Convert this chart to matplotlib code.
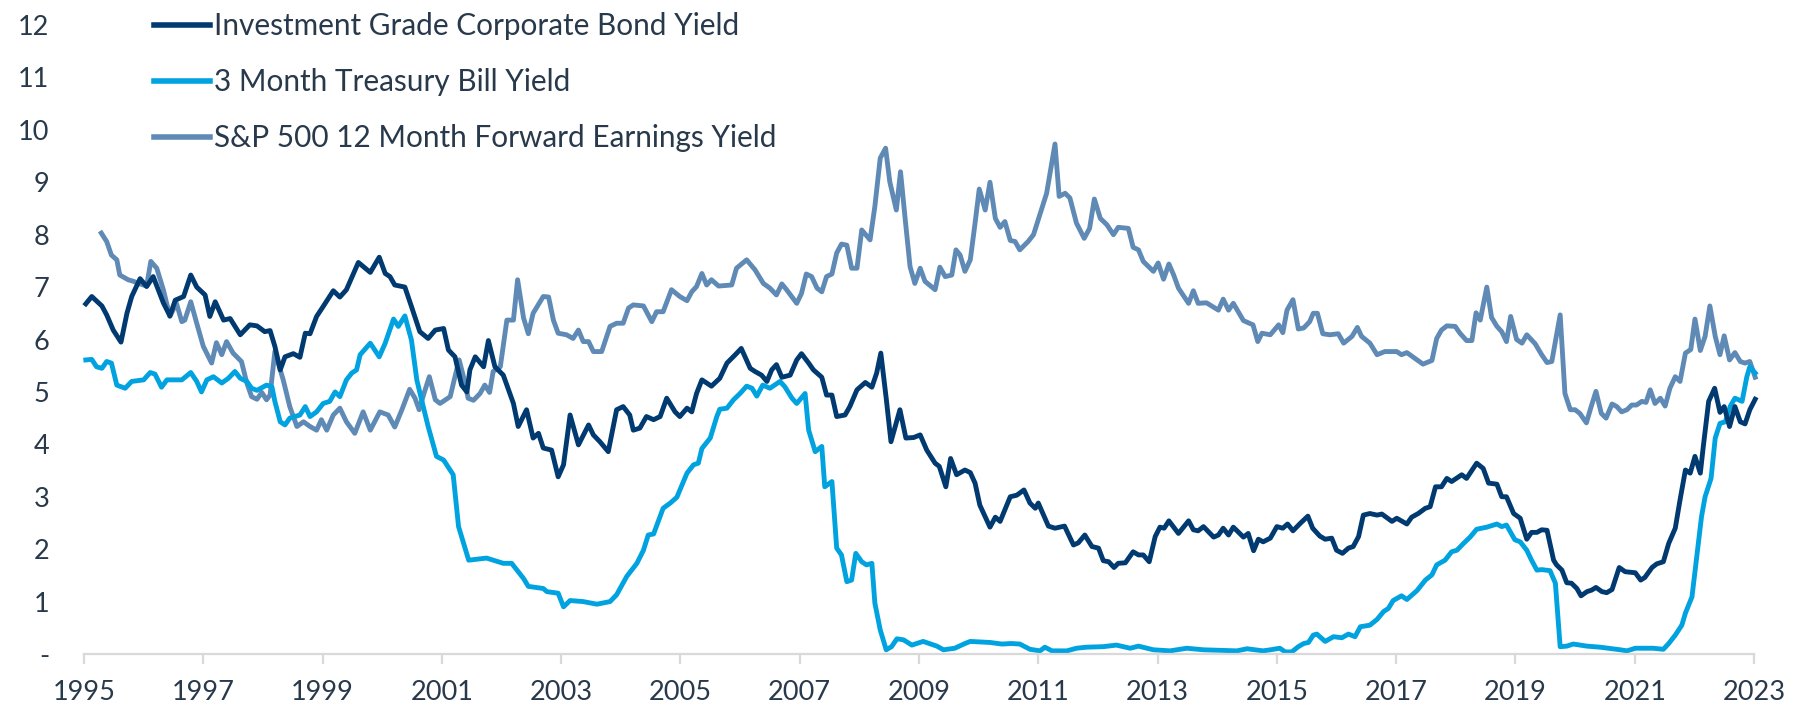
import matplotlib
matplotlib.use("Agg")
import matplotlib.pyplot as plt
import numpy as np

# ---- data ----
corp_dates = [1995.03, 1995.13, 1995.30, 1995.38, 1995.49, 1995.62, 1995.72, 1995.80, 1995.94, 1996.05,
              1996.16, 1996.33, 1996.44, 1996.53, 1996.67, 1996.79, 1996.89, 1997.03, 1997.11, 1997.20,
              1997.34, 1997.45, 1997.62, 1997.78, 1997.90, 1998.03, 1998.12, 1998.20, 1998.29, 1998.37,
              1998.51, 1998.62, 1998.71, 1998.79, 1998.90, 1999.01, 1999.18, 1999.29, 1999.40, 1999.60,
              1999.80, 1999.95, 2000.05, 2000.13, 2000.21, 2000.38, 2000.49, 2000.63, 2000.77, 2000.89,
              2001.03, 2001.11, 2001.22, 2001.33, 2001.42, 2001.47, 2001.56, 2001.70, 2001.78, 2001.89,
              2002.03, 2002.20, 2002.28, 2002.42, 2002.53, 2002.62, 2002.70, 2002.84, 2002.95, 2003.04,
              2003.15, 2003.29, 2003.46, 2003.54, 2003.65, 2003.79, 2003.93, 2004.04, 2004.15, 2004.21,
              2004.32, 2004.43, 2004.55, 2004.66, 2004.77, 2004.91, 2004.99, 2005.11, 2005.19, 2005.27,
              2005.36, 2005.52, 2005.66, 2005.78, 2005.92, 2006.02, 2006.17, 2006.25, 2006.36, 2006.45,
              2006.53, 2006.61, 2006.70, 2006.84, 2006.95, 2007.03, 2007.15, 2007.23, 2007.37, 2007.45,
              2007.54, 2007.62, 2007.76, 2007.84, 2007.96, 2008.10, 2008.21, 2008.29, 2008.36, 2008.45,
              2008.53, 2008.68, 2008.78, 2008.91, 2009.02, 2009.13, 2009.27, 2009.34, 2009.45, 2009.53,
              2009.63, 2009.77, 2009.86, 2009.94, 2010.02, 2010.19, 2010.28, 2010.36, 2010.44, 2010.53,
              2010.64, 2010.76, 2010.86, 2010.95, 2011.00, 2011.17, 2011.28, 2011.44, 2011.59, 2011.67,
              2011.78, 2011.90, 2012.01, 2012.09, 2012.18, 2012.27, 2012.34, 2012.46, 2012.59, 2012.68,
              2012.76, 2012.86, 2012.96, 2013.04, 2013.11, 2013.19, 2013.35, 2013.52, 2013.60, 2013.68,
              2013.77, 2013.94, 2014.02, 2014.10, 2014.19, 2014.27, 2014.44, 2014.52, 2014.61, 2014.69,
              2014.77, 2014.89, 2015.00, 2015.10, 2015.18, 2015.27, 2015.39, 2015.52, 2015.60, 2015.72,
              2015.81, 2015.92, 2016.00, 2016.10, 2016.20, 2016.28, 2016.37, 2016.45, 2016.56, 2016.68,
              2016.76, 2016.93, 2017.01, 2017.18, 2017.26, 2017.37, 2017.49, 2017.57, 2017.66, 2017.76,
              2017.85, 2017.93, 2018.10, 2018.18, 2018.35, 2018.46, 2018.55, 2018.69, 2018.77, 2018.85,
              2018.97, 2019.08, 2019.19, 2019.27, 2019.36, 2019.44, 2019.53, 2019.64, 2019.69, 2019.78,
              2019.86, 2019.94, 2020.03, 2020.10, 2020.20, 2020.28, 2020.35, 2020.45, 2020.53, 2020.62,
              2020.74, 2020.84, 2021.01, 2021.10, 2021.17, 2021.29, 2021.37, 2021.48, 2021.57, 2021.68,
              2021.76, 2021.85, 2021.93, 2022.01, 2022.10, 2022.15, 2022.24, 2022.34, 2022.43, 2022.50,
              2022.59, 2022.68, 2022.77, 2022.85, 2022.93, 2023.02]
corp_yield = [6.68, 6.82, 6.64, 6.47, 6.18, 5.95, 6.50, 6.82, 7.16, 7.01,
              7.20, 6.70, 6.45, 6.75, 6.82, 7.23, 7.00, 6.85, 6.44, 6.72,
              6.37, 6.40, 6.09, 6.28, 6.26, 6.15, 6.17, 5.87, 5.42, 5.67,
              5.73, 5.66, 6.12, 6.11, 6.44, 6.63, 6.93, 6.81, 6.95, 7.47,
              7.28, 7.57, 7.26, 7.20, 7.04, 7.00, 6.63, 6.15, 6.02, 6.18,
              6.21, 5.80, 5.67, 5.13, 5.00, 5.42, 5.67, 5.48, 5.98, 5.48,
              5.32, 4.78, 4.34, 4.66, 4.12, 4.21, 3.93, 3.89, 3.38, 3.61,
              4.56, 3.99, 4.37, 4.18, 4.05, 3.86, 4.66, 4.72, 4.56, 4.27,
              4.31, 4.53, 4.47, 4.53, 4.88, 4.62, 4.53, 4.69, 4.62, 4.97,
              5.23, 5.11, 5.26, 5.55, 5.71, 5.83, 5.45, 5.39, 5.32, 5.20,
              5.42, 5.52, 5.28, 5.32, 5.61, 5.73, 5.55, 5.42, 5.28, 4.94,
              4.94, 4.53, 4.56, 4.72, 5.04, 5.18, 5.09, 5.36, 5.74, 4.88,
              4.05, 4.66, 4.12, 4.13, 4.18, 3.89, 3.64, 3.58, 3.19, 3.73,
              3.42, 3.51, 3.46, 3.26, 2.84, 2.42, 2.61, 2.53, 2.75, 3.00,
              3.03, 3.13, 2.88, 2.78, 2.88, 2.44, 2.40, 2.44, 2.08, 2.12,
              2.27, 2.05, 2.02, 1.78, 1.76, 1.65, 1.73, 1.74, 1.95, 1.89,
              1.89, 1.76, 2.24, 2.42, 2.40, 2.54, 2.30, 2.54, 2.37, 2.35,
              2.43, 2.23, 2.27, 2.40, 2.27, 2.42, 2.23, 2.30, 1.97, 2.19,
              2.14, 2.21, 2.43, 2.40, 2.48, 2.35, 2.49, 2.63, 2.40, 2.25,
              2.19, 2.21, 1.98, 1.92, 2.02, 2.05, 2.24, 2.65, 2.68, 2.65,
              2.67, 2.53, 2.59, 2.48, 2.61, 2.68, 2.78, 2.81, 3.19, 3.19,
              3.35, 3.29, 3.42, 3.35, 3.64, 3.54, 3.26, 3.24, 3.00, 3.00,
              2.68, 2.59, 2.19, 2.32, 2.32, 2.37, 2.36, 1.79, 1.70, 1.60,
              1.36, 1.35, 1.25, 1.11, 1.19, 1.22, 1.27, 1.19, 1.17, 1.23,
              1.65, 1.57, 1.55, 1.41, 1.46, 1.65, 1.72, 1.76, 2.11, 2.40,
              2.94, 3.51, 3.45, 3.77, 3.45, 3.96, 4.82, 5.07, 4.61, 4.72,
              4.34, 4.72, 4.43, 4.39, 4.66, 4.86]

tbill_dates = [1995.03, 1995.13, 1995.21, 1995.30, 1995.38, 1995.46, 1995.55, 1995.69, 1995.80, 1996.00,
               1996.11, 1996.19, 1996.30, 1996.39, 1996.64, 1996.79, 1996.89, 1996.97, 1997.06, 1997.17,
               1997.31, 1997.42, 1997.53, 1997.62, 1997.73, 1997.81, 1997.90, 1998.06, 1998.15, 1998.20,
               1998.29, 1998.37, 1998.45, 1998.62, 1998.71, 1998.79, 1998.90, 1999.01, 1999.12, 1999.21,
               1999.29, 1999.40, 1999.49, 1999.57, 1999.63, 1999.80, 1999.95, 2000.05, 2000.19, 2000.27,
               2000.38, 2000.49, 2000.58, 2000.66, 2000.77, 2000.91, 2001.03, 2001.19, 2001.28, 2001.45,
               2001.75, 2002.03, 2002.17, 2002.37, 2002.45, 2002.70, 2002.76, 2002.95, 2003.04, 2003.15,
               2003.37, 2003.60, 2003.82, 2003.93, 2004.10, 2004.27, 2004.38, 2004.46, 2004.55, 2004.71,
               2004.83, 2004.94, 2005.11, 2005.22, 2005.30, 2005.36, 2005.50, 2005.61, 2005.66, 2005.78,
               2005.89, 2006.00, 2006.11, 2006.20, 2006.28, 2006.38, 2006.50, 2006.67, 2006.75, 2006.87,
               2006.95, 2007.09, 2007.15, 2007.26, 2007.37, 2007.42, 2007.54, 2007.62, 2007.70, 2007.79,
               2007.87, 2007.94, 2008.04, 2008.12, 2008.21, 2008.26, 2008.35, 2008.45, 2008.54, 2008.63,
               2008.74, 2008.88, 2009.07, 2009.30, 2009.41, 2009.60, 2009.77, 2009.86, 2010.19, 2010.39,
               2010.55, 2010.69, 2010.86, 2011.03, 2011.11, 2011.23, 2011.48, 2011.64, 2011.81, 2012.09,
               2012.31, 2012.54, 2012.68, 2012.93, 2013.21, 2013.49, 2013.77, 2014.33, 2014.50, 2014.77,
               2014.89, 2015.05, 2015.14, 2015.25, 2015.36, 2015.45, 2015.53, 2015.61, 2015.67, 2015.81,
               2015.95, 2016.09, 2016.20, 2016.31, 2016.40, 2016.56, 2016.68, 2016.79, 2016.87, 2016.95,
               2017.09, 2017.18, 2017.35, 2017.49, 2017.60, 2017.68, 2017.82, 2017.93, 2018.02, 2018.13,
               2018.24, 2018.35, 2018.52, 2018.69, 2018.77, 2018.85, 2018.99, 2019.08, 2019.19, 2019.27,
               2019.36, 2019.44, 2019.58, 2019.67, 2019.75, 2019.86, 2019.97, 2020.20, 2020.42, 2020.76,
               2020.87, 2021.01, 2021.31, 2021.48, 2021.57, 2021.68, 2021.79, 2021.85, 2021.96, 2022.04,
               2022.12, 2022.18, 2022.28, 2022.35, 2022.43, 2022.52, 2022.60, 2022.68, 2022.80, 2022.88,
               2022.93, 2023.02]
tbill_yield = [5.61, 5.62, 5.48, 5.45, 5.58, 5.55, 5.13, 5.07, 5.20, 5.23,
               5.37, 5.34, 5.09, 5.23, 5.23, 5.37, 5.20, 5.00, 5.23, 5.29,
               5.17, 5.26, 5.39, 5.26, 5.20, 5.07, 5.03, 5.13, 5.10, 4.82,
               4.43, 4.37, 4.50, 4.56, 4.72, 4.53, 4.62, 4.78, 4.82, 5.00,
               4.91, 5.23, 5.36, 5.42, 5.71, 5.93, 5.67, 5.93, 6.39, 6.25,
               6.45, 5.99, 5.23, 4.85, 4.34, 3.77, 3.70, 3.42, 2.43, 1.79,
               1.83, 1.73, 1.73, 1.44, 1.29, 1.25, 1.19, 1.16, 0.90, 1.02,
               1.00, 0.95, 1.00, 1.13, 1.48, 1.73, 1.98, 2.27, 2.29, 2.78,
               2.88, 2.99, 3.45, 3.61, 3.64, 3.92, 4.12, 4.53, 4.67, 4.69,
               4.85, 4.97, 5.11, 5.07, 4.92, 5.13, 5.07, 5.20, 5.10, 4.88,
               4.78, 4.97, 4.27, 3.86, 3.96, 3.19, 3.29, 2.02, 1.89, 1.38,
               1.41, 1.92, 1.76, 1.70, 1.73, 0.97, 0.46, 0.08, 0.14, 0.29,
               0.27, 0.17, 0.24, 0.15, 0.08, 0.11, 0.20, 0.24, 0.22, 0.19,
               0.20, 0.19, 0.09, 0.06, 0.13, 0.06, 0.06, 0.11, 0.13, 0.14,
               0.17, 0.11, 0.15, 0.08, 0.06, 0.11, 0.08, 0.06, 0.10, 0.06,
               0.08, 0.11, 0.04, 0.04, 0.14, 0.20, 0.22, 0.36, 0.38, 0.24,
               0.33, 0.31, 0.38, 0.33, 0.52, 0.55, 0.66, 0.81, 0.87, 1.02,
               1.11, 1.04, 1.21, 1.41, 1.51, 1.70, 1.79, 1.95, 1.98, 2.11,
               2.23, 2.38, 2.42, 2.48, 2.43, 2.46, 2.18, 2.14, 1.98, 1.79,
               1.60, 1.61, 1.59, 1.35, 0.14, 0.15, 0.19, 0.15, 0.13, 0.08,
               0.06, 0.11, 0.11, 0.09, 0.20, 0.36, 0.55, 0.78, 1.09, 1.86,
               2.62, 3.00, 3.35, 4.12, 4.40, 4.43, 4.72, 4.88, 4.82, 5.29,
               5.48, 5.36]

spx_dates = [1995.29, 1995.38, 1995.46, 1995.55, 1995.60, 1995.74, 1995.83, 1995.94, 1996.05, 1996.12,
             1996.22, 1996.33, 1996.44, 1996.55, 1996.64, 1996.69, 1996.79, 1996.89, 1997.00, 1997.14,
             1997.22, 1997.31, 1997.39, 1997.50, 1997.64, 1997.73, 1997.81, 1997.90, 1997.98, 1998.06,
             1998.12, 1998.20, 1998.34, 1998.45, 1998.57, 1998.68, 1998.79, 1998.90, 1998.98, 1999.07,
             1999.18, 1999.29, 1999.40, 1999.54, 1999.68, 1999.80, 1999.96, 2000.10, 2000.21, 2000.33,
             2000.46, 2000.55, 2000.62, 2000.70, 2000.79, 2000.89, 2000.97, 2001.14, 2001.22, 2001.29,
             2001.39, 2001.44, 2001.53, 2001.64, 2001.72, 2001.80, 2001.86, 2001.98, 2002.09, 2002.20,
             2002.27, 2002.37, 2002.45, 2002.53, 2002.70, 2002.79, 2002.87, 2002.95, 2003.09, 2003.20,
             2003.29, 2003.37, 2003.46, 2003.54, 2003.68, 2003.82, 2003.93, 2004.04, 2004.13, 2004.21,
             2004.38, 2004.52, 2004.60, 2004.71, 2004.85, 2004.99, 2005.11, 2005.19, 2005.27, 2005.36,
             2005.44, 2005.52, 2005.64, 2005.86, 2005.94, 2006.11, 2006.25, 2006.39, 2006.50, 2006.61,
             2006.70, 2006.78, 2006.95, 2007.03, 2007.11, 2007.20, 2007.29, 2007.37, 2007.45, 2007.54,
             2007.62, 2007.70, 2007.79, 2007.87, 2007.96, 2008.04, 2008.18, 2008.26, 2008.35, 2008.44,
             2008.51, 2008.62, 2008.69, 2008.77, 2008.85, 2008.93, 2009.02, 2009.10, 2009.27, 2009.35,
             2009.44, 2009.55, 2009.62, 2009.69, 2009.77, 2009.86, 2009.94, 2010.01, 2010.11, 2010.19,
             2010.28, 2010.36, 2010.44, 2010.53, 2010.61, 2010.69, 2010.83, 2010.92, 2011.06, 2011.14,
             2011.28, 2011.35, 2011.45, 2011.53, 2011.64, 2011.77, 2011.86, 2011.94, 2012.04, 2012.15,
             2012.26, 2012.34, 2012.51, 2012.59, 2012.68, 2012.76, 2012.93, 2013.01, 2013.10, 2013.19,
             2013.27, 2013.35, 2013.52, 2013.60, 2013.68, 2013.82, 2014.02, 2014.10, 2014.19, 2014.27,
             2014.44, 2014.60, 2014.68, 2014.75, 2014.89, 2015.03, 2015.10, 2015.17, 2015.27, 2015.36,
             2015.45, 2015.55, 2015.61, 2015.68, 2015.77, 2015.89, 2016.03, 2016.12, 2016.26, 2016.35,
             2016.42, 2016.56, 2016.68, 2016.81, 2017.01, 2017.09, 2017.18, 2017.35, 2017.45, 2017.60,
             2017.68, 2017.76, 2017.85, 2017.99, 2018.07, 2018.18, 2018.27, 2018.34, 2018.41, 2018.52,
             2018.60, 2018.69, 2018.77, 2018.85, 2018.92, 2019.02, 2019.11, 2019.19, 2019.33, 2019.44,
             2019.53, 2019.61, 2019.75, 2019.83, 2019.92, 2020.00, 2020.08, 2020.19, 2020.27, 2020.35,
             2020.44, 2020.52, 2020.62, 2020.70, 2020.78, 2020.87, 2020.95, 2021.03, 2021.12, 2021.19,
             2021.26, 2021.34, 2021.43, 2021.51, 2021.59, 2021.68, 2021.76, 2021.85, 2021.94, 2022.01,
             2022.10, 2022.18, 2022.26, 2022.35, 2022.43, 2022.50, 2022.59, 2022.68, 2022.77, 2022.85,
             2022.93, 2023.02]
spx_yield = [8.03, 7.87, 7.61, 7.52, 7.23, 7.14, 7.11, 7.06, 7.02, 7.49,
             7.36, 6.95, 6.44, 6.69, 6.34, 6.37, 6.72, 6.31, 5.87, 5.55,
             5.94, 5.71, 5.96, 5.74, 5.58, 5.17, 4.91, 4.86, 4.99, 4.85,
             4.94, 5.77, 5.23, 4.72, 4.34, 4.43, 4.34, 4.27, 4.47, 4.27,
             4.56, 4.69, 4.43, 4.21, 4.62, 4.27, 4.62, 4.56, 4.33, 4.66,
             5.05, 4.88, 4.66, 4.97, 5.29, 4.85, 4.78, 4.91, 5.29, 5.61,
             5.17, 4.88, 4.84, 4.97, 5.13, 4.99, 5.39, 5.48, 6.37, 6.37,
             7.14, 6.41, 6.11, 6.50, 6.82, 6.81, 6.37, 6.12, 6.09, 6.02,
             6.18, 5.96, 5.96, 5.77, 5.77, 6.25, 6.31, 6.31, 6.60, 6.66,
             6.64, 6.34, 6.53, 6.53, 6.95, 6.82, 6.74, 6.91, 7.01, 7.26,
             7.04, 7.14, 7.02, 7.04, 7.36, 7.52, 7.33, 7.07, 6.98, 6.85,
             7.06, 6.95, 6.69, 6.88, 7.25, 7.20, 6.98, 6.91, 7.20, 7.25,
             7.65, 7.82, 7.80, 7.36, 7.36, 8.09, 7.90, 8.54, 9.46, 9.65,
             9.01, 8.47, 9.20, 8.28, 7.39, 7.07, 7.36, 7.11, 6.95, 7.38,
             7.20, 7.23, 7.71, 7.61, 7.30, 7.52, 8.22, 8.87, 8.47, 9.00,
             8.31, 8.14, 8.25, 7.89, 7.87, 7.71, 7.87, 8.00, 8.50, 8.79,
             9.73, 8.73, 8.79, 8.70, 8.22, 7.93, 8.12, 8.68, 8.31, 8.19,
             8.00, 8.14, 8.12, 7.76, 7.71, 7.49, 7.30, 7.46, 7.15, 7.44,
             7.23, 6.98, 6.69, 6.93, 6.69, 6.70, 6.56, 6.77, 6.56, 6.69,
             6.36, 6.28, 5.96, 6.12, 6.09, 6.28, 6.13, 6.56, 6.76, 6.20,
             6.22, 6.34, 6.50, 6.50, 6.11, 6.09, 6.11, 5.93, 6.06, 6.23,
             6.06, 5.93, 5.71, 5.77, 5.77, 5.71, 5.75, 5.61, 5.53, 5.60,
             6.02, 6.18, 6.26, 6.25, 6.12, 5.98, 5.98, 6.51, 6.37, 7.00,
             6.42, 6.25, 6.15, 5.96, 6.44, 6.00, 5.93, 6.09, 5.92, 5.71,
             5.56, 5.58, 6.47, 4.97, 4.66, 4.66, 4.59, 4.41, 4.72, 5.01,
             4.59, 4.50, 4.77, 4.72, 4.62, 4.66, 4.75, 4.75, 4.82, 4.80,
             5.04, 4.78, 4.88, 4.73, 5.07, 5.29, 5.20, 5.74, 5.81, 6.39,
             5.79, 6.06, 6.64, 6.06, 5.71, 6.07, 5.61, 5.75, 5.58, 5.55,
             5.58, 5.28]

series_names = ["Investment Grade Corporate Bond Yield",
                "3 Month Treasury Bill Yield",
                "S&P 500 12 Month Forward Earnings Yield"]
year_ticks = list(range(1995, 2024, 2))
value_ticks = list(range(0, 13))
value_labels = ["-"] + [str(v) for v in value_ticks[1:]]

# ---- style ----
dark = "#003a70"
bright = "#00a3e0"
steel = "#5f8ab5"
text_col = "#28394b"
axis_grey = "#d9d9d9"

plt.rcParams["font.family"] = ["Lato", "DejaVu Sans"]
tick_fs = 19.5
leg_fs = 21.4

W, H = 1812, 709
fig = plt.figure(figsize=(W / 100, H / 100), dpi=100)
ax = fig.add_axes([84 / W, 55 / H, 1670 / W, 629 / H])

lw = 3.5
ax.plot(corp_dates, corp_yield, color=dark, lw=lw, label=series_names[0], clip_on=False, zorder=3)
ax.plot(tbill_dates, tbill_yield, color=bright, lw=lw, label=series_names[1], clip_on=False, zorder=2)
ax.plot(spx_dates, spx_yield, color=steel, lw=lw, label=series_names[2], clip_on=False, zorder=1)

ax.set_xlim(1995, 2023)
ax.set_ylim(0, 12)
ax.set_xticks(year_ticks)
ax.set_xticklabels([str(y) for y in year_ticks])
ax.set_yticks(value_ticks)
ax.set_yticklabels(value_labels)

for s in ["top", "left", "right"]:
    ax.spines[s].set_visible(False)
ax.spines["bottom"].set_color(axis_grey)
ax.spines["bottom"].set_linewidth(1.6)

ax.tick_params(axis="x", direction="out", length=7, width=1.6, color=axis_grey,
               labelsize=tick_fs, labelcolor=text_col, pad=12)
ax.tick_params(axis="y", length=0, labelsize=tick_fs, labelcolor=text_col, pad=25)

# legend: lines + labels stacked in the upper left
leg = fig.legend(loc="upper left", bbox_to_anchor=(154 / W, 1 - 12 / H),
                 frameon=False, fontsize=leg_fs, labelcolor=text_col,
                 handlelength=1.9, handletextpad=0.12, labelspacing=0.95,
                 borderpad=0, borderaxespad=0)
for h in leg.get_lines():
    h.set_linewidth(4)

fig.savefig("out.png", dpi=100)
